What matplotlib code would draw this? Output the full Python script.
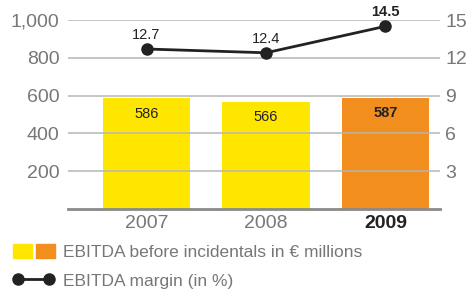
import matplotlib
matplotlib.use("Agg")
import matplotlib.pyplot as plt
from matplotlib.patches import Patch
from matplotlib.lines import Line2D
from matplotlib.legend_handler import HandlerTuple

plt.rcParams['font.family'] = ['Liberation Sans', 'DejaVu Sans']

years = ['2007', '2008', '2009']
ebitda = [586, 566, 587]
margin = [12.7, 12.4, 14.5]
left_ticks = [200, 400, 600, 800, 1000]
right_ticks = [3, 6, 9, 12, 15]

yellow = '#FFE600'
orange = '#F28E1E'
grey = '#777777'

fig = plt.figure(figsize=(4.66, 2.90), dpi=100)
ax = fig.add_axes([0.146, 0.279, 0.798, 0.652])
x = list(range(len(years)))
colors = [yellow, yellow, orange]
ax.bar(x, ebitda, width=0.73, color=colors, zorder=1)
ax.set_xlim(-0.657, 2.456)
ax.set_ylim(0, 1000)
ax.set_yticks(left_ticks)
ax.set_yticklabels([f'{v:,}' for v in left_ticks])
for v in left_ticks:
    ax.axhline(v, color='#b5b5b5', lw=1.1, zorder=2)

for i, v in enumerate(ebitda):
    ax.annotate(str(v), (i, v), xytext=(0, -11), textcoords='offset points',
                ha='center', va='center', fontsize=10.5, color='#222222',
                fontweight='bold' if i == 2 else 'normal', zorder=5)

ax.set_xticks(x)
ax.set_xticklabels(years)
for i, lab in enumerate(ax.get_xticklabels()):
    if i == 2:
        lab.set_fontweight('bold')
        lab.set_color('#222222')
    else:
        lab.set_color(grey)
ax.tick_params(axis='x', length=0, labelsize=14, pad=4)
ax.tick_params(axis='y', length=0, labelsize=14, labelcolor=grey, pad=6)
for s in ['top', 'right', 'left']:
    ax.spines[s].set_visible(False)
ax.spines['bottom'].set_color('#8a8a8a')
ax.spines['bottom'].set_linewidth(2)

ax2 = ax.twinx()
ax2.set_ylim(0, 15)
ax2.set_yticks(right_ticks)
ax2.tick_params(axis='y', length=0, labelsize=14, labelcolor=grey, pad=4)
for s in ax2.spines.values():
    s.set_visible(False)
ax2.plot(x, margin, color='#222222', lw=2, marker='o', markersize=8, zorder=5)
for i, v in enumerate(margin):
    ax2.annotate(f'{v}', (i, v), xytext=(0, 10), textcoords='offset points',
                 ha='center', va='center', fontsize=10.5, color='#222222',
                 fontweight='bold' if i == 2 else 'normal', annotation_clip=False)

handles = [(Patch(color=yellow), Patch(color=orange)),
           Line2D([], [], color='#222222', lw=2, marker='o', markersize=8)]
labels = ['EBITDA before incidentals in € millions', 'EBITDA margin (in %)']
fig.legend(handles, labels, loc='lower left', bbox_to_anchor=(13 / 466, 0.004),
           frameon=False, fontsize=12.5, labelcolor=grey, numpoints=2,
           handlelength=2.4, handleheight=0.85, handletextpad=0.46, labelspacing=0.72,
           borderaxespad=0, borderpad=0,
           handler_map={tuple: HandlerTuple(ndivide=None, pad=0.23)})

fig.savefig('out.png', dpi=100)
